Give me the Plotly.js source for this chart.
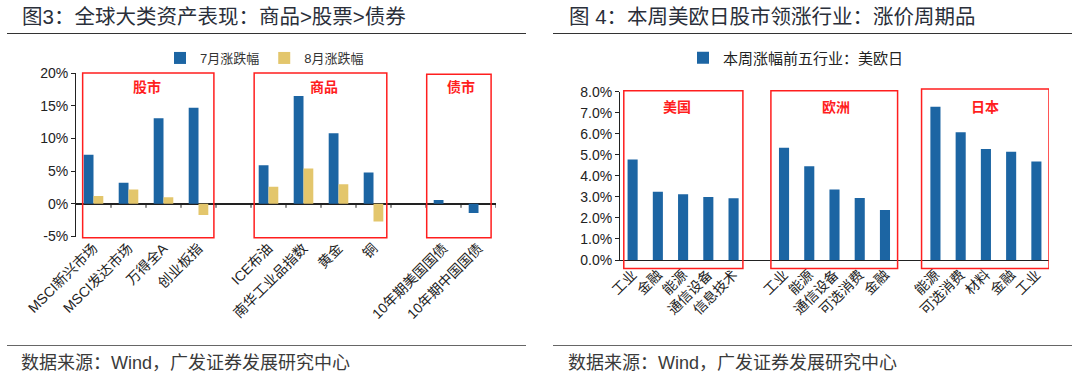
<!DOCTYPE html>
<html><head><meta charset="utf-8">
<script src="https://cdn.plot.ly/plotly-3.0.1.min.js"></script>
<style>html,body{margin:0;padding:0;background:#fff}#chart{width:1080px;height:381px}</style>
</head><body><div id="chart"></div>
<script>
// ---------- Figure 3 data ----------
const stockCats = ['MSCI新兴市场', 'MSCI发达市场', '万得全A', '创业板指'];
const stockJul = [7.5, 3.2, 13.1, 14.7];
const stockAug = [1.2, 2.2, 1.0, -1.7];
const commCats = ['ICE布油', '南华工业品指数', '黄金', '铜'];
const commJul = [5.9, 16.5, 10.8, 4.8];
const commAug = [2.6, 5.4, 3.0, -2.7];
const bondCats = ['10年期美国国债', '10年期中国国债'];
const bondJul = [0.6, -1.4];
const bondAug = [null, null];
const leftGroupNames = ['股市', '商品', '债市'];
const leftSeriesNames = ['7月涨跌幅', '8月涨跌幅'];
const leftYTickVals = [-5, 0, 5, 10, 15, 20];
const leftYTickText = ['-5%', '0%', '5%', '10%', '15%', '20%'];
const leftTitle = '图3：全球大类资产表现：商品>股票>债券';

// ---------- Figure 4 data ----------
const usCats = ['工业', '金融', '能源', '通信设备', '信息技术'];
const usVals = [4.78, 3.25, 3.13, 3.0, 2.93];
const euCats = ['工业', '能源', '通信设备', '可选消费', '金融'];
const euVals = [5.33, 4.46, 3.35, 2.95, 2.38];
const jpCats = ['能源', '可选消费', '材料', '金融', '工业'];
const jpVals = [7.28, 6.07, 5.28, 5.14, 4.68];
const rightGroupNames = ['美国', '欧洲', '日本'];
const rightSeriesName = '本周涨幅前五行业：美欧日';
const rightYTickVals = [0, 1, 2, 3, 4, 5, 6, 7, 8];
const rightYTickText = ['0.0%', '1.0%', '2.0%', '3.0%', '4.0%', '5.0%', '6.0%', '7.0%', '8.0%'];
const rightTitle = '图 4：本周美欧日股市领涨行业：涨价周期品';

const sourceText = '数据来源：Wind，广发证券发展研究中心';

// ---------- helpers ----------
function placeGroups(groups) {
  // groups: arrays of category labels; one empty slot between groups
  let pos = 0; const xs = []; const tickvals = []; const ticktext = []; const spans = [];
  groups.forEach((g, gi) => {
    const arr = [];
    g.forEach(lbl => { arr.push(pos); tickvals.push(pos); ticktext.push(lbl); pos++; });
    xs.push(arr); spans.push([arr[0], arr[arr.length - 1]]);
    if (gi < groups.length - 1) pos++;
  });
  return { xs, tickvals, ticktext, spans, n: pos };
}

const W = 1080, H = 381;
const px = v => v / W;
const py = v => (H - v) / H;

const FONT = 'Liberation Sans, Arial, Noto Sans CJK SC, sans-serif';
const BLUE = '#1c65a3';
const GOLD = '#e3c66c';
const RED = '#ff1e1e';
const AX = '#222';

const L = placeGroups([stockCats, commCats, bondCats]);
const R = placeGroups([usCats, euCats, jpCats]);

const traces = [
  { type: 'bar', name: leftSeriesNames[0], x: [].concat(...L.xs), y: [].concat(stockJul, commJul, bondJul),
    marker: { color: BLUE }, xaxis: 'x', yaxis: 'y', legend: 'legend', hoverinfo: 'skip' },
  { type: 'bar', name: leftSeriesNames[1], x: [].concat(...L.xs), y: [].concat(stockAug, commAug, bondAug),
    marker: { color: GOLD }, xaxis: 'x', yaxis: 'y', legend: 'legend', hoverinfo: 'skip' },
  { type: 'bar', name: rightSeriesName, x: [].concat(...R.xs), y: [].concat(usVals, euVals, jpVals),
    marker: { color: BLUE }, width: 0.4, xaxis: 'x2', yaxis: 'y2', legend: 'legend2', hoverinfo: 'skip' }
];

const shapes = [];
const annotations = [];

// x tick marks on the category boundaries
for (let b = 0.5; b < L.n; b += 1) {
  shapes.push({ type: 'line', xref: 'x', yref: 'y', ysizemode: 'pixel', yanchor: 0, x0: b, x1: b, y0: 0, y1: -4,
    line: { color: AX, width: 1 } });
}
for (let b = 0.5; b < R.n; b += 1) {
  shapes.push({ type: 'line', xref: 'x2', yref: 'y2', ysizemode: 'pixel', yanchor: 0, x0: b, x1: b, y0: 0, y1: -5,
    line: { color: AX, width: 1 } });
}

// red group boxes
const leftPad = [[0.19, 0.06], [0.09, 0.12], [0.02, 0.14]];
L.spans.forEach((s, i) => {
  shapes.push({ type: 'rect', xref: 'x', yref: 'y domain', x0: s[0] - 0.5 + leftPad[i][0], x1: s[1] + 0.5 - leftPad[i][1],
    y0: -0.007, y1: i === 2 ? 0.993 : 1.0, line: { color: RED, width: 1.5 }, fillcolor: 'rgba(0,0,0,0)' });
  annotations.push({ xref: 'x', yref: 'y', x: (s[0] + s[1]) / 2 + [0.02, 0.09, -0.01][i], y: 17.9, text: leftGroupNames[i],
    showarrow: false, font: { family: FONT, size: 14, color: RED, weight: 'bold' } });
});
const rightPad = [[0.15, 0.13], [-0.02, 0.0], [-0.05, 0.0]];
R.spans.forEach((s, i) => {
  shapes.push({ type: 'rect', xref: 'x2', yref: 'y2 domain', x0: s[0] - 0.5 + rightPad[i][0], x1: s[1] + 0.5 - rightPad[i][1],
    y0: -0.05, y1: i === 2 ? 1.016 : 1.006, line: { color: RED, width: 1.5 }, fillcolor: 'rgba(0,0,0,0)' });
  annotations.push({ xref: 'x2', yref: 'y2', x: (s[0] + s[1]) / 2 + [-0.23, 0.05, -0.04][i], y: 7.29, text: rightGroupNames[i],
    showarrow: false, font: { family: FONT, size: 14, color: RED, weight: 'bold' } });
});

// header / footer rules
[[7, 526], [553, 1072]].forEach(r => {
  shapes.push({ type: 'line', xref: 'paper', yref: 'paper', x0: px(r[0]), x1: px(r[1]), y0: py(33.5), y1: py(33.5), line: { color: '#333', width: 1.2 } });
  shapes.push({ type: 'line', xref: 'paper', yref: 'paper', x0: px(r[0]), x1: px(r[1]), y0: py(345.5), y1: py(345.5), line: { color: '#666', width: 1 } });
});

// titles and sources
annotations.push({ xref: 'paper', yref: 'paper', x: px(20), y: py(17), xanchor: 'left', yanchor: 'middle', showarrow: false,
  text: leftTitle, font: { family: FONT, size: 20.5, color: '#2a2f3a' } });
annotations.push({ xref: 'paper', yref: 'paper', x: px(567), y: py(17), xanchor: 'left', yanchor: 'middle', showarrow: false,
  text: rightTitle, font: { family: FONT, size: 20.5, color: '#2a2f3a' } });
annotations.push({ xref: 'paper', yref: 'paper', x: px(19), y: py(363), xanchor: 'left', yanchor: 'middle', showarrow: false,
  text: sourceText, font: { family: FONT, size: 18, color: '#3a3a3a' } });
annotations.push({ xref: 'paper', yref: 'paper', x: px(566), y: py(363), xanchor: 'left', yanchor: 'middle', showarrow: false,
  text: sourceText, font: { family: FONT, size: 18, color: '#3a3a3a' } });

const tickFont = { family: FONT, size: 14, color: '#222' };

const layout = {
  width: W, height: H,
  margin: { l: 0, r: 0, t: 0, b: 0 },
  paper_bgcolor: '#fff', plot_bgcolor: 'rgba(0,0,0,0)',
  barmode: 'group', bargap: 0.44, bargroupgap: 0,
  showlegend: true,
  xaxis: { domain: [px(76), px(496)], range: [-0.5, L.n - 0.5], anchor: 'y',
    tickmode: 'array', tickvals: L.tickvals, ticktext: L.ticktext, tickangle: -45,
    showgrid: false, zeroline: false, showline: false, ticks: '', tickfont: tickFont, fixedrange: true },
  yaxis: { domain: [py(236.5), py(73)], range: [-5, 20], anchor: 'x',
    tickmode: 'array', tickvals: leftYTickVals, ticktext: leftYTickText,
    showgrid: false, zeroline: true, zerolinecolor: AX, zerolinewidth: 1.5,
    showline: true, linecolor: AX, linewidth: 1, ticks: 'outside', ticklen: 4, tickcolor: AX, tickfont: tickFont, fixedrange: true },
  xaxis2: { domain: [px(620), px(1049)], range: [-0.5, R.n - 0.5], anchor: 'y2',
    tickmode: 'array', tickvals: R.tickvals, ticktext: R.ticktext, tickangle: -45,
    showgrid: false, zeroline: false, showline: true, linecolor: AX, linewidth: 1.2, ticks: '', tickfont: tickFont, fixedrange: true },
  yaxis2: { domain: [py(260), py(91.7)], range: [0, 8], anchor: 'x2',
    tickmode: 'array', tickvals: rightYTickVals, ticktext: rightYTickText,
    showgrid: false, zeroline: false,
    showline: true, linecolor: AX, linewidth: 1, ticks: 'outside', ticklen: 4, tickcolor: AX, tickfont: tickFont, fixedrange: true },
  legend: { orientation: 'h', x: px(160), xanchor: 'left', y: py(58), yanchor: 'middle',
    bgcolor: 'rgba(0,0,0,0)', font: { family: FONT, size: 13, color: '#333' }, itemclick: false },
  legend2: { orientation: 'h', x: px(683), xanchor: 'left', y: py(58), yanchor: 'middle',
    bgcolor: 'rgba(0,0,0,0)', font: { family: FONT, size: 15, color: '#222' }, itemclick: false },
  shapes, annotations
};

Plotly.newPlot('chart', traces, layout, { displayModeBar: false, staticPlot: true });
</script>
</body></html>
